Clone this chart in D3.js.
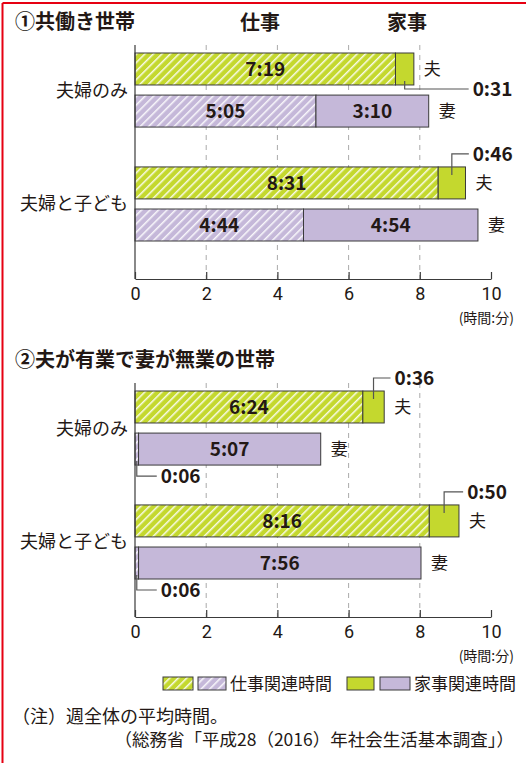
<!DOCTYPE html>
<html>
<head>
<meta charset="utf-8">
<script src="https://cdn.jsdelivr.net/npm/d3@7"></script>
<style>
  body { margin: 0; background: #fff; }
  svg text { font-family: "Noto Sans CJK JP", "Noto Sans", sans-serif; fill: #231815; }
</style>
</head>
<body>
<div id="chart"></div>
<script>
// data (hours:minutes as printed)
var households = ["夫婦のみ", "夫婦と子ども"];
var members = ["夫", "妻"];
var panelTitles = ["①共働き世帯", "②夫が有業で妻が無業の世帯"];
// order: 夫婦のみ 夫, 夫婦のみ 妻, 夫婦と子ども 夫, 夫婦と子ども 妻
var workTime1 = ["7:19", "5:05", "8:31", "4:44"];
var houseTime1 = ["0:31", "3:10", "0:46", "4:54"];
var workTime2 = ["6:24", "0:06", "8:16", "0:06"];
var houseTime2 = ["0:36", "5:07", "0:50", "7:56"];
var xTicks = [0, 2, 4, 6, 8, 10];
var legendLabels = ["仕事関連時間", "家事関連時間"];

var width = 526, height = 763;
var green = "#c4d82e", purple = "#c5b8d9", ink = "#3a3a3a";

function toHours(s) {
    var p = s.split(":");
    return +p[0] + (+p[1]) / 60;
}

var svg = d3.select("#chart")
    .append("svg")
    .attr("width", width)
    .attr("height", height);

// hatch patterns
var defs = svg.append("defs");
[["hatchGreen", green], ["hatchPurple", purple]].forEach(function(p) {
    var pat = defs.append("pattern")
        .attr("id", p[0])
        .attr("patternUnits", "userSpaceOnUse")
        .attr("width", 6)
        .attr("height", 6)
        .attr("patternTransform", "rotate(45)");
    pat.append("rect").attr("width", 6).attr("height", 6).attr("fill", p[1]);
    pat.append("rect").attr("width", 1.5).attr("height", 6).attr("fill", "#fff").attr("opacity", 0.9);
});

// red frame (top & left)
svg.append("line").attr("x1", 2.5).attr("x2", width).attr("y1", 3).attr("y2", 3)
    .attr("stroke", "#e60012").attr("stroke-width", 2);
svg.append("line").attr("x1", 2.5).attr("x2", 2.5).attr("y1", 3).attr("y2", height)
    .attr("stroke", "#e60012").attr("stroke-width", 2);

var x = d3.scaleLinear().domain([0, 10]).range([135, 491]);

var panels = [
    {title: panelTitles[0], work: workTime1, house: houseTime1, top: 45,
     callouts: [{row: 0, seg: "house", side: "below", reach: 64},
                {row: 2, seg: "house", side: "above", reach: 17}]},
    {title: panelTitles[1], work: workTime2, house: houseTime2, top: 383,
     callouts: [{row: 0, seg: "house", side: "above", reach: 17},
                {row: 2, seg: "house", side: "above", reach: 19},
                {row: 1, seg: "work", side: "below", reach: 20},
                {row: 3, seg: "work", side: "below", reach: 20}]}
];

var plotH = 234;

panels.forEach(function(panel, pi) {
    var g = svg.append("g").attr("transform", "translate(0," + panel.top + ")");

    var yGroup = d3.scaleBand().domain(households).range([8, 196]).paddingInner(0.35);
    var yMember = d3.scaleBand().domain(members).range([0, yGroup.bandwidth()]).paddingInner(0.24);

    // title
    svg.append("text")
        .attr("x", 15)
        .attr("y", panel.top - 23)
        .attr("dy", "0.36em")
        .style("font-size", "20px")
        .style("font-weight", "bold")
        .text(panel.title);

    if (pi === 0) {
        svg.append("text").attr("x", 260).attr("y", panel.top - 22).attr("dy", "0.36em")
            .attr("text-anchor", "middle").style("font-size", "20px").style("font-weight", "bold").text("仕事");
        svg.append("text").attr("x", 407).attr("y", panel.top - 22).attr("dy", "0.36em")
            .attr("text-anchor", "middle").style("font-size", "20px").style("font-weight", "bold").text("家事");
    }

    // dashed grid
    g.selectAll(".grid")
        .data(xTicks.filter(function(d) { return d > 0 && d < 10; }))
        .enter().append("line")
        .attr("x1", function(d) { return x(d); })
        .attr("x2", function(d) { return x(d); })
        .attr("y1", 0)
        .attr("y2", plotH)
        .attr("stroke", "#aaa")
        .attr("stroke-width", 1)
        .attr("stroke-dasharray", "5,5");

    // rows
    var rows = [];
    households.forEach(function(h, hi) {
        members.forEach(function(m, mi) {
            var i = hi * 2 + mi;
            rows.push({household: h, member: m, work: toHours(panel.work[i]), house: toHours(panel.house[i]),
                       workLabel: panel.work[i], houseLabel: panel.house[i],
                       y: yGroup(h) + yMember(m), color: m === "夫" ? green : purple,
                       hatch: m === "夫" ? "url(#hatchGreen)" : "url(#hatchPurple)"});
        });
    });
    var bh = yMember.bandwidth();

    // work segments
    g.selectAll(".work")
        .data(rows)
        .enter().append("rect")
        .attr("x", x(0))
        .attr("y", function(d) { return d.y; })
        .attr("width", function(d) { return x(d.work) - x(0); })
        .attr("height", bh)
        .attr("fill", function(d) { return d.hatch; })
        .attr("stroke", ink)
        .attr("stroke-width", 1);

    // house segments
    g.selectAll(".house")
        .data(rows)
        .enter().append("rect")
        .attr("x", function(d) { return x(d.work); })
        .attr("y", function(d) { return d.y; })
        .attr("width", function(d) { return x(d.work + d.house) - x(d.work); })
        .attr("height", bh)
        .attr("fill", function(d) { return d.color; })
        .attr("stroke", ink)
        .attr("stroke-width", 1);

    // labels inside bars (only for wide segments)
    rows.forEach(function(d) {
        if (d.work > 1) {
            g.append("text")
                .attr("x", (x(0) + x(d.work)) / 2)
                .attr("y", d.y + bh / 2)
                .attr("dy", "0.36em")
                .attr("text-anchor", "middle")
                .style("font-size", "19px")
                .style("font-weight", "bold")
                .text(d.workLabel);
        }
        if (d.house > 1) {
            g.append("text")
                .attr("x", (x(d.work) + x(d.work + d.house)) / 2)
                .attr("y", d.y + bh / 2)
                .attr("dy", "0.36em")
                .attr("text-anchor", "middle")
                .style("font-size", "19px")
                .style("font-weight", "bold")
                .text(d.houseLabel);
        }
        // 夫 / 妻
        g.append("text")
            .attr("x", x(d.work + d.house) + 10)
            .attr("y", d.y + bh / 2)
            .attr("dy", "0.36em")
            .style("font-size", "17px")
            .text(d.member);
    });

    // callouts
    panel.callouts.forEach(function(c) {
        var d = rows[c.row];
        var cx = c.seg === "house" ? (x(d.work) + x(d.work + d.house)) / 2 : (x(0) + x(d.work)) / 2;
        var label = c.seg === "house" ? d.houseLabel : d.workLabel;
        var y0, y1;
        if (c.side === "above") { y0 = d.y + 8; y1 = d.y - 13; }
        else { y0 = d.y + bh - 4; y1 = d.y + bh + (c.seg === "work" ? 11 : 4); }
        g.append("path")
            .attr("d", "M" + cx + "," + y0 + "V" + y1 + "H" + (cx + c.reach))
            .attr("fill", "none")
            .attr("stroke", "#555")
            .attr("stroke-width", 1.2);
        g.append("text")
            .attr("x", cx + c.reach + 4)
            .attr("y", y1)
            .attr("dy", "0.36em")
            .style("font-size", "19px")
            .style("font-weight", "bold")
            .text(label);
    });

    // category labels
    households.forEach(function(h) {
        g.append("text")
            .attr("x", 128)
            .attr("y", yGroup(h) + yGroup.bandwidth() / 2)
            .attr("dy", "0.36em")
            .attr("text-anchor", "end")
            .style("font-size", "18px")
            .text(h);
    });

    // left axis line
    g.append("line")
        .attr("x1", x(0)).attr("x2", x(0))
        .attr("y1", 0).attr("y2", plotH)
        .attr("stroke", ink).attr("stroke-width", 1.2);

    // bottom axis
    var axis = g.append("g")
        .attr("transform", "translate(0," + plotH + ")")
        .call(d3.axisBottom(x).tickValues(xTicks).tickSizeInner(-7).tickSizeOuter(0).tickPadding(8));
    axis.select(".domain").attr("stroke", ink).attr("stroke-width", 1.2);
    axis.selectAll(".tick line").attr("stroke", ink).attr("stroke-width", 1.2);
    axis.selectAll(".tick text")
        .style("font-family", "'Liberation Sans Narrow', Roboto, sans-serif")
        .style("font-size", "18px")
        .attr("fill", "#231815");

    g.append("text")
        .attr("x", 514)
        .attr("y", plotH + 39)
        .attr("dy", "0.36em")
        .attr("text-anchor", "end")
        .style("font-size", "14px")
        .text("(時間:分)");
});

// legend
var legend = svg.append("g").attr("transform", "translate(0,677)");
var legendItems = [
    {x: 163, w: 30, fill: "url(#hatchGreen)"},
    {x: 198, w: 28, fill: "url(#hatchPurple)"},
    {x: 347, w: 27, fill: green},
    {x: 380, w: 30, fill: purple}
];
legend.selectAll("rect")
    .data(legendItems)
    .enter().append("rect")
    .attr("x", function(d) { return d.x; })
    .attr("y", 0)
    .attr("width", function(d) { return d.w; })
    .attr("height", 13)
    .attr("fill", function(d) { return d.fill; })
    .attr("stroke", ink);
legend.append("text").attr("x", 230).attr("y", 7).attr("dy", "0.36em")
    .style("font-size", "17px").text(legendLabels[0]);
legend.append("text").attr("x", 414).attr("y", 7).attr("dy", "0.36em")
    .style("font-size", "17px").text(legendLabels[1]);

// notes
svg.append("text").attr("x", 12).attr("y", 717).attr("dy", "0.36em")
    .style("font-size", "18px").text("（注）週全体の平均時間。");
svg.append("text").attr("x", 514).attr("y", 740).attr("dy", "0.36em")
    .attr("text-anchor", "end")
    .style("font-size", "17.5px").text("（総務省「平成28（2016）年社会生活基本調査」）");
</script>
</body>
</html>
